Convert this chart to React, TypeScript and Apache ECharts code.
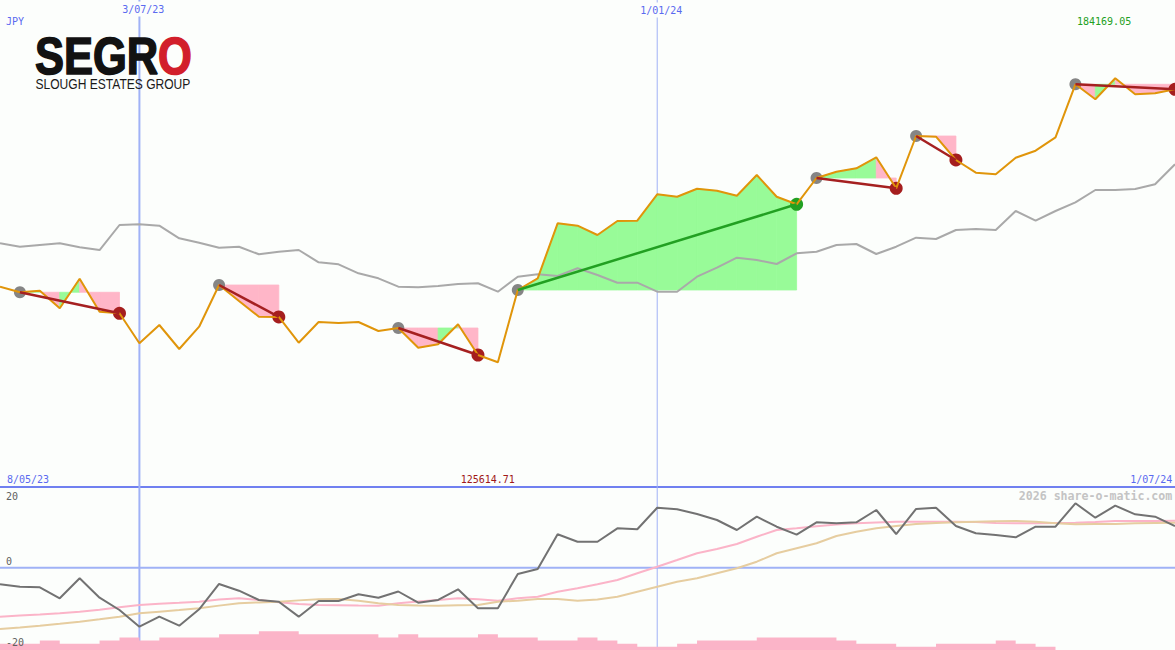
import React, { useEffect, useRef } from "react";
import * as echarts from "echarts";

// ---------------- data ----------------
const PRICE_LOW = 125614.71;
const PRICE_HIGH = 184169.05;
const CURRENCY = "JPY";
const START_LABEL = "8/05/23";
const END_LABEL = "1/07/24";
const DATE_MARK_IDX = [7, 33];
const DATE_MARK_LABELS = ["3/07/23", "1/01/24"];
const OSC_TICKS = ["20", "0", "-20"];

// weekly closes
const PRICE = [
  149698, 149025, 149217, 147101, 150660, 146692, 146500, 142893, 145093, 142207,
  144888, 149902, 147978, 146091, 146060, 142965, 145454, 145330, 145450, 144371,
  144732, 142363, 142772, 145177, 141486, 140608, 149301, 150708, 157321, 157032,
  155914, 157597, 157633, 160808, 160519, 161481, 161240, 160639, 163128, 160519,
  159605, 162767, 163525, 163934, 165256, 161529, 167817, 167733, 164932, 163405,
  163212, 165208, 166050, 167661, 174033, 172230, 174755, 172831, 172951, 173432,
];

// moving average (grey)
const MA = [
  154916, 154507, 154712, 154916, 154435, 154110, 157116, 157200, 157032, 155517,
  154988, 154387, 154507, 153593, 153906, 154110, 152632, 152391, 151309, 150708,
  149698, 149626, 149782, 150022, 150107, 149097, 150900, 151189, 150984, 151910,
  151105, 150179, 150179, 149097, 149097, 150900, 151982, 153185, 152908, 152427,
  153714, 153906, 154712, 154832, 153630, 154507, 155589, 155433, 156515, 156635,
  156515, 158800, 157633, 158800, 159846, 161325, 161325, 161445, 162010, 164415,
];

// trades (indices of entry / exit weeks)
const ENTRY_IDX = [1, 11, 20, 26, 41, 46, 54];
const EXIT_IDX = [6, 14, 24, 40, 45, 48, 59];

// oscillator (dark grey)
const OSC = [
  -4.11, -4.71, -4.86, -7.58, -2.63, -7.43, -10.48, -14.62, -12.14, -14.37,
  -10.31, -4.04, -5.7, -8.0, -8.43, -12.14, -8.25, -8.25, -6.59, -7.43,
  -5.9, -8.67, -8.0, -5.35, -10.06, -10.06, -1.56, -0.32, 8.28, 6.44,
  6.44, 9.76, 9.52, 14.87, 14.47, 13.31, 11.82, 9.34, 12.64, 10.16,
  8.18, 11.25, 11.0, 11.25, 14.3, 8.35, 14.55, 14.87, 10.33, 8.53,
  8.1, 7.53, 10.16, 10.16, 15.96, 12.39, 15.37, 13.23, 12.64, 10.33,
];

// fast average (pink)
const OSC_FAST = [
  -12.14, -11.85, -11.6, -11.3, -10.9, -10.4, -9.81, -9.24, -8.95, -8.7,
  -8.43, -7.9, -7.58, -8.0, -8.57, -9.0, -9.24, -9.3, -9.4, -9.42,
  -8.82, -8.4, -8.0, -7.58, -7.83, -8.18, -7.58, -7.19, -5.95, -5.11,
  -4.11, -3.05, -1.39, 0.25, 1.9, 3.57, 4.63, 5.87, 7.68, 9.34,
  9.76, 10.3, 10.7, 11.0, 11.2, 11.4, 11.4, 11.4, 11.4, 11.3,
  11.1, 11.0, 11.0, 11.1, 11.15, 11.3, 11.57, 11.6, 11.6, 11.65,
];

// slow average (tan)
const OSC_SLOW = [
  -15.19, -14.8, -14.37, -13.9, -13.38, -12.8, -12.14, -11.3, -10.9, -10.5,
  -10.06, -9.4, -8.82, -8.6, -8.43, -8.1, -7.83, -7.76, -8.2, -8.82,
  -9.24, -9.35, -9.42, -9.3, -9.24, -8.43, -8.18, -7.76, -7.76, -8.18,
  -7.9, -7.19, -5.95, -4.71, -3.47, -2.63, -1.39, -0.15, 1.49, 3.57,
  4.81, 6.05, 7.86, 8.92, 9.76, 10.33, 10.8, 11.1, 11.25, 11.4,
  11.5, 11.57, 11.4, 11.0, 10.76, 10.8, 10.83, 11.0, 11.1, 11.15,
];

// volume
const VOLUME = [
  2, 2, 3, 2, 2, 3, 4, 3, 4, 4,
  4, 5, 5, 6, 6, 5, 5, 5, 5, 4,
  5, 4, 4, 4, 5, 4, 4, 3, 3, 4,
  3, 2, 1, 1, 2, 3, 3, 3, 4, 4,
  4, 4, 3, 2, 2, 1, 1, 2, 2, 2,
  3, 2, 1, 0, 0, 0, 0, 0, 0, 0,
];

// ---------------- styles ----------------
const BG = "#fcfefc";
const OSC_MIN = -20.4;
const OSC_MAX = 20;
const VOL_MAX = 52;
const BLUE_TEXT = "#5a6af0";
const MONO = '"DejaVu Sans Mono", monospace';
const LOGO_FONT = 'bold 52px "Liberation Sans", Arial, sans-serif';

function buildOption() {
  const n = PRICE.length;
  const pts = (arr: number[]) => arr.map((v, i) => [i, v]);

  // fill segments between entry level and price
  const fills: number[][] = [];
  ENTRY_IDX.forEach((e, t) => {
    const x = EXIT_IDX[t];
    for (let i = e; i < x; i++) {
      fills.push([i, i + 1, PRICE[e], PRICE[i], PRICE[i + 1]]);
    }
  });

  const tradeSeries = ENTRY_IDX.map((e, t) => {
    const x = EXIT_IDX[t];
    const win = PRICE[x] > PRICE[e];
    return {
      type: "line",
      xAxisIndex: 0,
      yAxisIndex: 0,
      data: [
        [e, PRICE[e]],
        [x, PRICE[x]],
      ],
      symbol: "none",
      lineStyle: { color: win ? "#22a022" : "#a52020", width: 2.5 },
      silent: true,
    };
  });

  const txt = (
    text: string,
    x: number,
    y: number,
    color: string,
    align: string,
    extra: any = {}
  ) => ({
    type: "text",
    x,
    y,
    z: 100,
    silent: true,
    style: {
      text,
      fill: color,
      font: `10px ${MONO}`,
      align,
      verticalAlign: "middle",
      ...extra,
    },
  });

  const logoPart = (text: string, x: number, color: string) => ({
    type: "text",
    x,
    y: 56,
    scaleX: 0.836,
    z: 100,
    silent: true,
    style: {
      text,
      fill: color,
      stroke: color,
      lineWidth: 1.6,
      font: LOGO_FONT,
      align: "left",
      verticalAlign: "middle",
    },
  });

  const graphic: any[] = [
    logoPart("SEGR", 35, "#121212"),
    logoPart("O", 158, "#d21f2b"),
    {
      type: "text",
      x: 35.5,
      y: 84.5,
      scaleX: 0.862,
      z: 100,
      silent: true,
      style: {
        text: "SLOUGH ESTATES GROUP",
        fill: "#1a1a1a",
        font: '14px "Liberation Sans", Arial, sans-serif',
        align: "left",
        verticalAlign: "middle",
      },
    },
    txt(CURRENCY, 6, 21, BLUE_TEXT, "left"),
    txt(DATE_MARK_LABELS[0], 143.3, 9, BLUE_TEXT, "center", {
      backgroundColor: BG,
      padding: [5, 1, 0, 1],
    }),
    txt(DATE_MARK_LABELS[1], 661.3, 10, BLUE_TEXT, "center", {
      backgroundColor: BG,
      padding: [5, 1, 0, 1],
    }),
    txt(PRICE_HIGH.toFixed(2), 1077, 21, "#22a022", "left"),
    txt(START_LABEL, 7, 479, BLUE_TEXT, "left"),
    txt(PRICE_LOW.toFixed(2), 460.7, 479, "#a01818", "left"),
    txt(END_LABEL, 1172.3, 479, BLUE_TEXT, "right"),
    txt("2026 share-o-matic.com", 1172.3, 496, "#c4c4c4", "right", {
      font: `bold 11.6px ${MONO}`,
    }),
    txt(OSC_TICKS[0], 6, 496, "#606060", "left"),
    txt(OSC_TICKS[1], 6, 561.5, "#606060", "left"),
    txt(OSC_TICKS[2], 6, 642, "#606060", "left"),
  ];

  return {
    animation: false,
    backgroundColor: BG,
    grid: [
      { left: 0, right: 0, top: 0, height: 487 },
      { left: 0, right: 0, top: 487, height: 163 },
    ],
    xAxis: [
      {
        type: "value",
        gridIndex: 0,
        min: 0,
        max: n - 1,
        axisLine: { show: true, onZero: false, lineStyle: { color: "#7080f0", width: 2 } },
        axisTick: { show: false },
        axisLabel: { show: false },
        splitLine: { show: false },
      },
      { type: "value", gridIndex: 1, min: 0, max: n - 1, show: false },
    ],
    yAxis: [
      { type: "value", gridIndex: 0, min: PRICE_LOW, max: PRICE_HIGH, show: false },
      { type: "value", gridIndex: 1, min: OSC_MIN, max: OSC_MAX, show: false },
      { type: "value", gridIndex: 1, min: 0, max: VOL_MAX, show: false },
    ],
    graphic,
    series: [
      // date grid lines, top panel
      {
        type: "custom",
        xAxisIndex: 0,
        yAxisIndex: 0,
        silent: true,
        data: DATE_MARK_IDX.map((d, k) => [d, k === 0 ? 2 : 1]),
        renderItem: (_p: any, api: any) => {
          const x = api.value(0);
          const w = api.value(1);
          const a = api.coord([x, PRICE_HIGH]);
          const b = api.coord([x, PRICE_LOW]);
          return {
            type: "line",
            shape: { x1: a[0], y1: a[1], x2: b[0], y2: b[1] },
            style: { stroke: "#a0b2f6", lineWidth: w },
          };
        },
      },
      // date grid lines + zero line, bottom panel
      {
        type: "custom",
        xAxisIndex: 1,
        yAxisIndex: 1,
        silent: true,
        data: [...DATE_MARK_IDX.map((d, k) => [d, k === 0 ? 2 : 1, 0]), [0, 2, 1]],
        renderItem: (_p: any, api: any) => {
          const x = api.value(0);
          const w = api.value(1);
          const horiz = api.value(2) === 1;
          let a, b;
          if (horiz) {
            a = api.coord([0, 0]);
            b = api.coord([n - 1, 0]);
          } else {
            a = api.coord([x, OSC_MAX]);
            b = api.coord([x, OSC_MIN]);
          }
          return {
            type: "line",
            shape: { x1: a[0], y1: a[1], x2: b[0], y2: b[1] },
            style: { stroke: "#a0b2f6", lineWidth: w },
          };
        },
      },
      // trade fills
      {
        type: "custom",
        xAxisIndex: 0,
        yAxisIndex: 0,
        silent: true,
        data: fills,
        encode: { x: [0, 1], y: [2, 3, 4] },
        renderItem: (_p: any, api: any) => {
          const x0 = api.value(0);
          const x1 = api.value(1);
          const base = api.value(2);
          const p0 = api.value(3);
          const p1 = api.value(4);
          const points = [
            api.coord([x0, base]),
            api.coord([x0, p0]),
            api.coord([x1, p1]),
            api.coord([x1, base]),
          ];
          const c = p1 >= base ? "#98fb98" : "#ffb6c8";
          return {
            type: "polygon",
            shape: { points },
            style: { fill: c, stroke: c, lineWidth: 0.8 },
          };
        },
      },
      // moving average
      {
        type: "line",
        xAxisIndex: 0,
        yAxisIndex: 0,
        data: pts(MA),
        symbol: "none",
        lineStyle: { color: "#a9a9a9", width: 2 },
        silent: true,
      },
      // price
      {
        type: "line",
        xAxisIndex: 0,
        yAxisIndex: 0,
        data: pts(PRICE),
        symbol: "none",
        lineStyle: { color: "#e0950a", width: 2 },
        silent: true,
      },
      ...tradeSeries,
      // entry markers
      {
        type: "scatter",
        xAxisIndex: 0,
        yAxisIndex: 0,
        data: ENTRY_IDX.map((e) => [e, PRICE[e]]),
        symbolSize: 12,
        itemStyle: { color: "#858585", opacity: 1 },
        silent: true,
      },
      // exit markers
      {
        type: "scatter",
        xAxisIndex: 0,
        yAxisIndex: 0,
        data: EXIT_IDX.map((x, t) => ({
          value: [x, PRICE[x]],
          itemStyle: {
            color: PRICE[x] > PRICE[ENTRY_IDX[t]] ? "#22a022" : "#a51e1e",
            opacity: 1,
          },
        })),
        symbolSize: 13,
        itemStyle: { opacity: 1 },
        silent: true,
      },
      // volume
      {
        type: "line",
        xAxisIndex: 1,
        yAxisIndex: 2,
        data: pts(VOLUME),
        step: "end",
        symbol: "none",
        lineStyle: { width: 0, color: "#fbb4c8" },
        areaStyle: { color: "#fbb4c8", opacity: 1 },
        silent: true,
      },
      // pink average
      {
        type: "line",
        xAxisIndex: 1,
        yAxisIndex: 1,
        data: pts(OSC_FAST),
        symbol: "none",
        lineStyle: { color: "#fbb4c8", width: 2 },
        silent: true,
      },
      // tan average
      {
        type: "line",
        xAxisIndex: 1,
        yAxisIndex: 1,
        data: pts(OSC_SLOW),
        symbol: "none",
        lineStyle: { color: "#e6cda0", width: 2 },
        silent: true,
      },
      // oscillator
      {
        type: "line",
        xAxisIndex: 1,
        yAxisIndex: 1,
        data: pts(OSC),
        symbol: "none",
        lineStyle: { color: "#727272", width: 2 },
        silent: true,
      },
    ],
  };
}

export default function App() {
  const ref = useRef<HTMLDivElement>(null);
  useEffect(() => {
    document.body.style.margin = "0";
    const chart = echarts.init(ref.current as HTMLDivElement, null, { renderer: "svg" });
    chart.setOption(buildOption() as any);
    return () => chart.dispose();
  }, []);
  return <div ref={ref} style={{ width: 1175, height: 650, background: BG }} />;
}
